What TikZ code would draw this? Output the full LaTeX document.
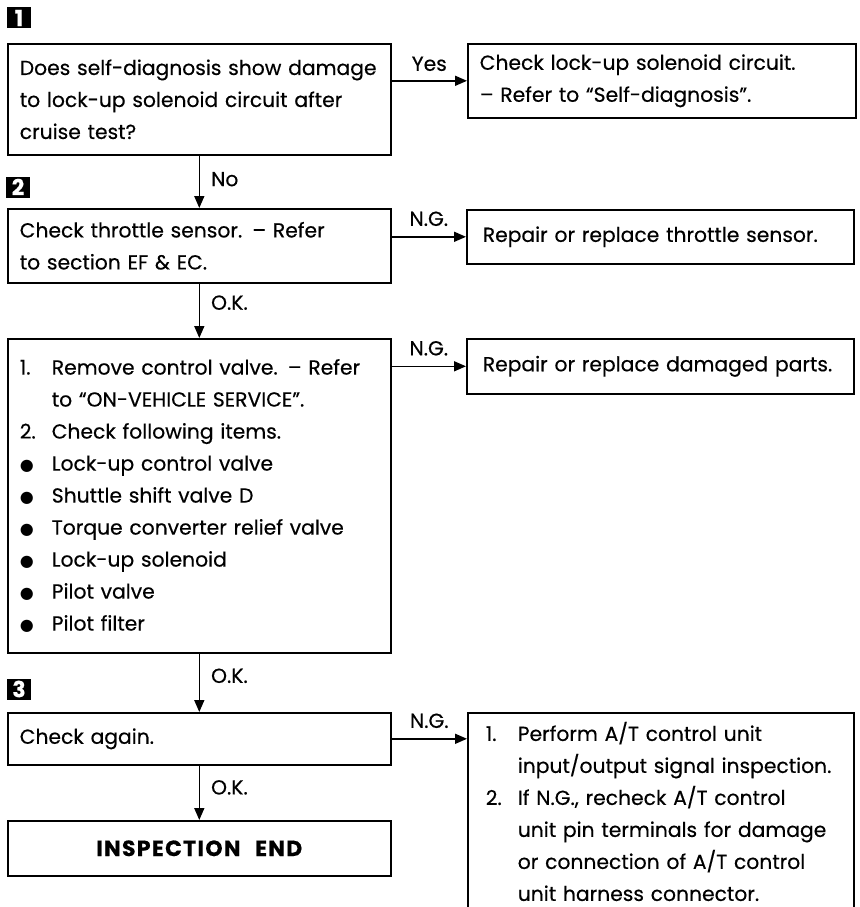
\documentclass[tikz,border=0pt]{standalone}
\usepackage{fontspec}
\setmainfont{Poppins}[FakeBold=0.4]
\newfontfamily\symfont{DejaVu Sans}
\usepackage{tikz}
\usetikzlibrary{arrows.meta,positioning,calc}
\hyphenpenalty=10000
\newcommand{\itemno}[1]{\makebox[32pt][l]{#1}}
\newcommand{\dotmark}{\itemno{{\symfont\fontsize{16}{16}\selectfont ●}}}
\tikzset{
  flowbox/.style={draw,line width=1.6pt,rectangle,anchor=north west,
    align=left,inner xsep=12pt,inner ysep=8pt,
    font=\fontsize{20.3}{32}\selectfont},
  stepmark/.style={fill=black,text=white,inner sep=0pt,minimum width=24pt,
    minimum height=21pt,font=\fontsize{22}{22}\selectfont\bfseries},
  flow/.style={line width=1.6pt,-{Triangle[length=12pt,width=10pt]}},
  lbl/.style={font=\fontsize{20.3}{24}\selectfont,inner sep=3pt}
}

\begin{document}
\begin{tikzpicture}[x=1pt,y=-1pt]
\useasboundingbox (0,0) rectangle (859,907);

%--- step 1 ---------------------------------------------------------------
\node[stepmark] (s1) at (19,18) {1};
\node[flowbox,minimum width=383pt,minimum height=111pt,text width=359pt]
  (q1) at (7,43)
  {Does self-diagnosis show damage\\ to lock-up solenoid circuit after\\ cruise test?};
\node[flowbox,minimum width=388pt,minimum height=74pt,text width=364pt]
  (a1) at (467,43)
  {Check lock-up solenoid circuit.\\ -- Refer to “Self-diagnosis”.};

%--- step 2 ---------------------------------------------------------------
\node[stepmark] (s2) at (18,187) {2};
\node[flowbox,minimum width=383pt,minimum height=74pt,text width=359pt]
  (q2) at (7,208)
  {Check throttle sensor. -- Refer\\ to section EF \& EC.};
\node[flowbox,minimum width=387pt,minimum height=54pt,text width=355pt,
  inner xsep=16pt] (a2) at (466,209)
  {Repair or replace throttle sensor.};

\node[flowbox,minimum width=383pt,minimum height=314pt,text width=359pt]
  (q3) at (7,338)
  {\itemno{1.}Remove control valve. -- Refer\\
   \itemno{}to “ON-VEHICLE SERVICE”.\\
   \itemno{2.}Check following items.\\
   \dotmark Lock-up control valve\\
   \dotmark Shuttle shift valve D\\
   \dotmark Torque converter relief valve\\
   \dotmark Lock-up solenoid\\
   \dotmark Pilot valve\\
   \dotmark Pilot filter};
\node[flowbox,minimum width=387pt,minimum height=55pt,text width=355pt,
  inner xsep=16pt] (a3) at (466,338)
  {Repair or replace damaged parts.};

%--- step 3 ---------------------------------------------------------------
\node[stepmark] (s3) at (19,689) {3};
\node[flowbox,minimum width=383pt,minimum height=52pt,text width=359pt]
  (q4) at (7,712) {Check again.};
\node[flowbox,minimum width=383pt,minimum height=55pt,text width=359pt,
  align=center,font=\fontsize{22}{32}\selectfont\bfseries\addfontfeature{LetterSpace=6}]
  (fin) at (7,820) {INSPECTION\ \ END};
\node[flowbox,minimum width=386pt,text width=350pt,inner xsep=18pt,
  inner ysep=9pt] (a4) at (467,712)
  {\itemno{1.}Perform A/T control unit\\
   \itemno{}input/output signal inspection.\\
   \itemno{2.}If N.G., recheck A/T control\\
   \itemno{}unit pin terminals for damage\\
   \itemno{}or connection of A/T control\\
   \itemno{}unit harness connector.};

%--- connectors -----------------------------------------------------------
\draw[flow] (q1.east |- a1.west) -- node[lbl,above=6pt] {Yes} (a1.west);
\draw[flow] (q1.south) -- node[lbl,right=8pt,pos=0.45] {No} (q2.north);
\draw[flow] (q2.east |- a2.west) -- node[lbl,above=7pt] {N.G.} (a2.west);
\draw[flow] (q2.south) -- node[lbl,right=8pt,pos=0.35] {O.K.} (q3.north);
\draw[flow] (q3.east |- a3.west) -- node[lbl,above=7pt] {N.G.} (a3.west);
\draw[flow] (q3.south) -- node[lbl,right=8pt,pos=0.38] {O.K.} (q4.north);
\draw[flow] (q4.east) -- node[lbl,above=7pt] {N.G.} (q4.east -| a4.west);
\draw[flow] (q4.south) -- node[lbl,right=8pt,pos=0.4] {O.K.} (fin.north);

\end{tikzpicture}
\end{document}
